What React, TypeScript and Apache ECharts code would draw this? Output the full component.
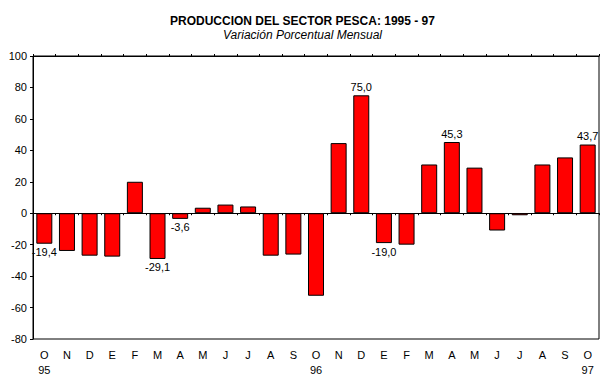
import React, { useEffect, useRef } from 'react';
import * as echarts from 'echarts';

const months = ['O', 'N', 'D', 'E', 'F', 'M', 'A', 'M', 'J', 'J', 'A', 'S', 'O', 'N', 'D', 'E', 'F', 'M', 'A', 'M', 'J', 'J', 'A', 'S', 'O'];
const years = ['95', '', '', '', '', '', '', '', '', '', '', '', '96', '', '', '', '', '', '', '', '', '', '', '', '97'];
const values = [-19.4, -24.0, -27.0, -27.6, 20.0, -29.1, -3.6, 3.5, 5.5, 4.3, -27.0, -26.3, -52.5, 44.6, 75.0, -19.0, -20.0, 31.0, 45.3, 29.0, -11.0, -1.3, 31.0, 35.5, 43.7];
const labeledBars = [0, 5, 6, 14, 15, 18, 24];
const yMin = -80;
const yMax = 100;
const yStep = 20;

const titleText = 'PRODUCCION DEL SECTOR PESCA: 1995 - 97';
const subtitleText = 'Variación Porcentual Mensual';

const FONT = '"Liberation Sans", Arial, sans-serif';

export default function App() {
  const ref = useRef<HTMLDivElement>(null);

  useEffect(() => {
    document.body.style.margin = '0';
    if (!ref.current) return;
    const chart = echarts.init(ref.current, undefined, { renderer: 'svg' });
    const fmt = (v: number) => v.toFixed(1).replace('.', ',');
    const gridRect = { left: 33, right: 6, top: 56, bottom: 46, containLabel: false };
    chart.setOption({
      animation: false,
      backgroundColor: '#ffffff',
      textStyle: { fontFamily: FONT },
      title: [
        {
          text: titleText,
          left: 'center',
          top: 15,
          padding: 0,
          textStyle: { fontFamily: FONT, fontSize: 12, lineHeight: 12, fontWeight: 'bold', color: '#000' },
        },
        {
          text: subtitleText,
          left: 'center',
          top: 29,
          padding: 0,
          textStyle: { fontFamily: FONT, fontSize: 12, lineHeight: 12, fontWeight: 'normal', fontStyle: 'italic', color: '#000' },
        },
      ],
      grid: [
        { ...gridRect, show: true, borderColor: '#000', borderWidth: 1 },
        { ...gridRect, show: false },
      ],
      xAxis: [
        {
          gridIndex: 0,
          type: 'category',
          data: months,
          position: 'bottom',
          axisLine: { show: true, onZero: true, lineStyle: { color: '#000', width: 1 } },
          axisTick: { show: true, length: 2, lineStyle: { color: '#000' } },
          axisLabel: { show: false },
          splitLine: { show: false },
        },
        {
          gridIndex: 0,
          type: 'category',
          data: months,
          position: 'top',
          axisLine: { show: true, onZero: true, lineStyle: { color: '#000', width: 1 } },
          axisTick: { show: true, length: 2, lineStyle: { color: '#000' } },
          axisLabel: { show: false },
          splitLine: { show: false },
        },
        {
          gridIndex: 1,
          type: 'category',
          data: months,
          position: 'bottom',
          axisLine: { show: false, onZero: false },
          axisTick: { show: false },
          axisLabel: {
            interval: 0,
            margin: 8,
            color: '#000',
            fontFamily: FONT,
            fontSize: 11,
            lineHeight: 15,
            formatter: (v: string, i: number) => (years[i] ? `${v}\n${years[i]}` : v),
          },
          splitLine: { show: false },
        },
      ],
      yAxis: [
        {
          gridIndex: 0,
          type: 'value',
          min: yMin,
          max: yMax,
          interval: yStep,
          axisLine: { show: true, lineStyle: { color: '#000', width: 1 } },
          axisTick: { show: true, length: 3, lineStyle: { color: '#000' } },
          axisLabel: { color: '#000', fontFamily: FONT, fontSize: 11, margin: 6 },
          splitLine: { show: false },
        },
        { gridIndex: 1, type: 'value', min: yMin, max: yMax, show: false },
      ],
      series: [
        {
          type: 'bar',
          xAxisIndex: 0,
          yAxisIndex: 0,
          barWidth: 16,
          itemStyle: { color: '#ff0000', borderColor: '#000', borderWidth: 1 },
          data: values.map((v, i) => ({
            value: v,
            label: {
              show: labeledBars.includes(i),
              position: v < 0 ? 'bottom' : 'top',
              distance: 3,
              formatter: () => fmt(v),
              color: '#000',
              fontFamily: FONT,
              fontSize: 11,
            },
          })),
        },
      ],
    });
    return () => chart.dispose();
  }, []);

  return <div ref={ref} style={{ width: 605, height: 385 }} />;
}
